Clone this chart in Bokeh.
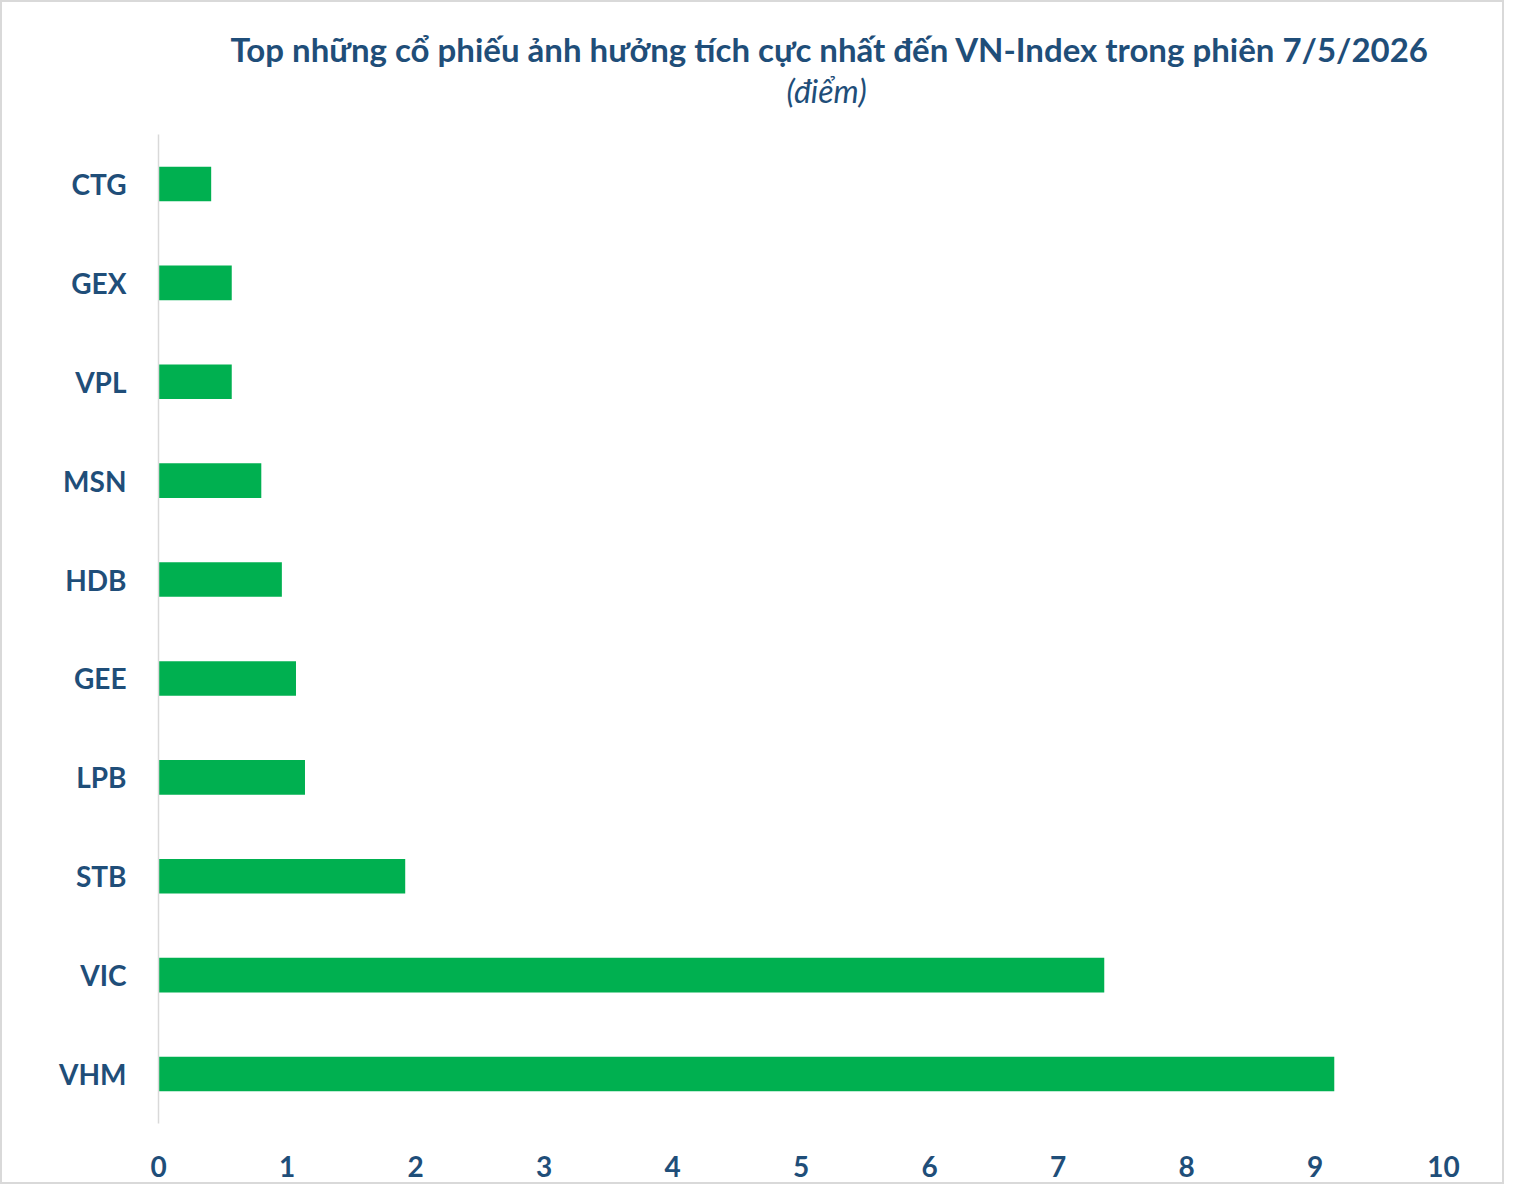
from bokeh.plotting import figure
from bokeh.models import Range1d, FactorRange, Title, FixedTicker, ColumnDataSource
from bokeh.embed import file_html
from bokeh.resources import INLINE

# ---- data ----
tickers = ["CTG", "GEX", "VPL", "MSN", "HDB", "GEE", "LPB", "STB", "VIC", "VHM"]
values = [0.41, 0.57, 0.57, 0.80, 0.96, 1.07, 1.14, 1.92, 7.36, 9.15]
x_ticks = [0, 1, 2, 3, 4, 5, 6, 7, 8, 9, 10]
title_text = "Top những cổ phiếu ảnh hưởng tích cực nhất đến VN-Index trong phiên 7/5/2026"
subtitle_text = "(điểm)"

TEXT = "#1F4E79"
GREEN = "#00B050"
FONT = "Lato"

src = ColumnDataSource(dict(ticker=tickers, value=values))

p = figure(
    width=1504, height=1184,
    y_range=FactorRange(factors=list(reversed(tickers)), range_padding=0),
    x_range=Range1d(0, 10),
    output_backend="svg", toolbar_location=None,
    min_border_left=156, min_border_right=63,
    min_border_top=132, min_border_bottom=63,
)
p.styles = {"border": "2px solid #D9D9D9"}

p.hbar(y="ticker", right="value", left=0, height=0.35, source=src,
       fill_color=GREEN, line_color=None)

p.outline_line_color = None
p.xgrid.grid_line_color = None
p.ygrid.grid_line_color = None

p.xaxis.ticker = FixedTicker(ticks=x_ticks)
p.xaxis.axis_line_color = None
p.xaxis.major_tick_line_color = None
p.xaxis.minor_tick_line_color = None
p.xaxis.major_label_standoff = 26
p.xaxis.major_label_text_font = FONT
p.xaxis.major_label_text_font_style = "bold"
p.xaxis.major_label_text_font_size = "28px"
p.xaxis.major_label_text_color = TEXT

p.yaxis.axis_line_color = "#D9D9D9"
p.yaxis.axis_line_width = 1.5
p.yaxis.major_tick_line_color = None
p.yaxis.minor_tick_line_color = None
p.yaxis.major_label_standoff = 26
p.yaxis.major_label_text_font = FONT
p.yaxis.major_label_text_font_style = "bold"
p.yaxis.major_label_text_font_size = "28px"
p.yaxis.major_label_text_color = TEXT

# titles stack outward from the frame: spacer, subtitle, main title
spacer = Title(text=" ", align="left", standoff=22, text_font=FONT,
               text_font_size="1px", text_color="white")
sub = Title(text=subtitle_text, align="left", offset=628, standoff=0,
            text_font=FONT, text_font_style="italic", text_font_size="32px",
            text_color=TEXT)
ttl = Title(text=title_text, align="left", offset=72, standoff=0,
            text_font=FONT, text_font_style="bold", text_font_size="33px",
            text_color=TEXT)
p.add_layout(spacer, "above")
p.add_layout(sub, "above")
p.add_layout(ttl, "above")

open("out.html", "w").write(file_html(p, INLINE))
